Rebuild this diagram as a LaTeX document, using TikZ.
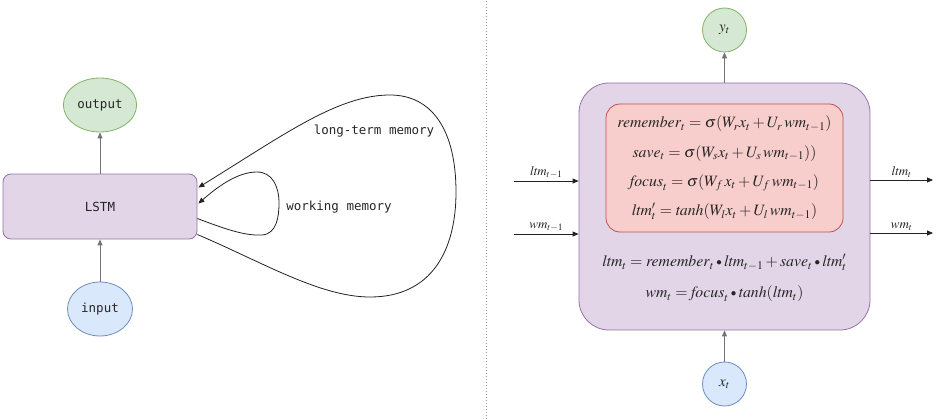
\documentclass[tikz,border=0pt]{standalone}
\usepackage{mathptmx}
\usepackage{fontspec}
\newfontfamily\codefont{DejaVu Sans Mono}
\usetikzlibrary{arrows.meta,calc,shapes.geometric}

% small elementwise product dot
\newcommand{\hprod}{\mathbin{\vcenter{\hbox{\scalebox{0.7}{$\bullet$}}}}}

\definecolor{greenfill}{HTML}{D5E8D4}
\definecolor{greenline}{HTML}{82B366}
\definecolor{bluefill}{HTML}{DAE8FC}
\definecolor{blueline}{HTML}{6C8EBF}
\definecolor{purplefill}{HTML}{E1D5E7}
\definecolor{purpleline}{HTML}{9673A6}
\definecolor{redfill}{HTML}{F8CECC}
\definecolor{redline}{HTML}{B85450}
\definecolor{inkgray}{HTML}{222222}

\tikzset{
  tip/.style={-{Triangle[length=6pt,width=5pt]}},
  stemlink/.style={tip, draw=black!55, line width=0.9pt},
  flowlink/.style={tip, draw=inkgray, line width=0.8pt},
  looplink/.style={tip, draw=inkgray, line width=0.8pt},
  codetext/.style={font=\codefont\fontsize{12.5}{14}\selectfont, text=black!85},
  cellbox/.style={draw=purpleline, fill=purplefill, line width=0.8pt},
  greenball/.style={draw=greenline, fill=greenfill, line width=0.8pt},
  blueball/.style={draw=blueline, fill=bluefill, line width=0.8pt},
  mathtext/.style={font=\fontsize{15.8}{29.3}\selectfont, text=black!85, align=center},
  labeltext/.style={font=\fontsize{13}{15}\selectfont, text=black!85},
  balltext/.style={font=\fontsize{15}{17}\selectfont, text=black!85},
}

\begin{document}
\begin{tikzpicture}[x=1pt,y=-1pt]
\useasboundingbox (0,0) rectangle (940,420);

% ---------- compact view: LSTM with its two recurrent memories ----------
\node[cellbox, rounded corners=8pt, minimum width=194pt, minimum height=65pt,
      codetext] (lstm) at (100,206.5) {LSTM};
\node[greenball, ellipse, minimum width=65pt, minimum height=54pt,
      codetext] (out) at (100,105) {output};
\node[blueball, ellipse, minimum width=65pt, minimum height=54pt,
      codetext] (in) at (100,309) {input};

\draw[stemlink] (lstm.north) -- (out.south);
\draw[stemlink] (in.north) -- (lstm.south);

% long-term memory loop
\coordinate (ltA) at ($(lstm.east)+(0,28)$);
\coordinate (ltB) at ($(lstm.east)+(1,-19)$);
\draw[looplink] (ltA) .. controls (262,262) and (320,297) .. (370,297)
  .. controls (432,297) and (456,250) .. (456,192)
  .. controls (456,130) and (432,95) .. (390,95)
  .. controls (338,95) and (285,134) .. (ltB);

% working memory loop
\coordinate (wmA) at ($(lstm.east)+(0,12)$);
\coordinate (wmB) at ($(lstm.east)+(1,-3)$);
\draw[looplink] (wmA) .. controls (225,229) and (245,236) .. (262,235)
  .. controls (277,234) and (279,216) .. (279,203)
  .. controls (279,186) and (272,172) .. (257,172)
  .. controls (236,172) and (215,189) .. (wmB);

\node[codetext] (ltlabel) at (374,131) {long-term memory};
\node[codetext] (wmlabel) at (339,207) {working memory};

% ---------- separator ----------
\coordinate (sepTop) at (486,1);
\coordinate (sepBot) at (486,419);
\draw[black!40, line width=0.8pt, dash pattern=on 1pt off 2pt] (sepTop) -- (sepBot);

% ---------- unrolled cell with its gate equations ----------
\node[cellbox, rounded corners=30pt, minimum width=291pt, minimum height=247pt]
  (cell) at (724.5,206.5) {};
\node[draw=redline, fill=redfill, line width=0.8pt, rounded corners=14pt,
      minimum width=237pt, minimum height=128pt, mathtext, inner sep=0pt]
  (gates) at (724.5,168) {%
  $\mathit{remember}_t = \sigma(W_r x_t + U_r\,\mathit{wm}_{t-1})$\\
  $\mathit{save}_t = \sigma(W_s x_t + U_s\,\mathit{wm}_{t-1}))$\\
  $\mathit{focus}_t = \sigma(W_f\, x_t + U_f\,\mathit{wm}_{t-1})$\\
  $\mathit{ltm}'_t = \mathit{tanh}(W_l x_t + U_l\,\mathit{wm}_{t-1})$};
\node[mathtext, font=\fontsize{15.8}{31}\selectfont, inner sep=0pt] (update) at (724.5,278) {%
  $\mathit{ltm}_t = \mathit{remember}_t \hprod \mathit{ltm}_{t-1} + \mathit{save}_t \hprod \mathit{ltm}'_t$\\
  $\mathit{wm}_t = \mathit{focus}_t \hprod \mathit{tanh}(\mathit{ltm}_t)$};

\node[greenball, circle, minimum size=44pt, inner sep=0pt, balltext] (yt) at (724.5,30) {$y_t$};
\node[blueball, circle, minimum size=44pt, inner sep=0pt, balltext] (xt) at (724.5,384) {$x_t$};
\draw[stemlink] (cell.north) -- (yt.south);
\draw[stemlink] (xt.north) -- (cell.south);

% incoming states
\coordinate (ltmIn) at (514,181);
\coordinate (wmIn) at (514,234);
\draw[flowlink] (ltmIn) -- node[above, labeltext, yshift=-1pt] (ltmInLabel) {$\mathit{ltm}_{t-1}$} (ltmIn -| cell.west);
\draw[flowlink] (wmIn) -- node[above, labeltext, yshift=-1pt] (wmInLabel) {$\mathit{wm}_{t-1}$} (wmIn -| cell.west);

% outgoing states
\coordinate (ltmOut) at (933,180);
\coordinate (wmOut) at (933,233);
\draw[flowlink] (ltmOut -| cell.east) -- node[above, labeltext, yshift=-1pt] (ltmOutLabel) {$\mathit{ltm}_t$} (ltmOut);
\draw[flowlink] (wmOut -| cell.east) -- node[above, labeltext, yshift=-1pt] (wmOutLabel) {$\mathit{wm}_t$} (wmOut);

\end{tikzpicture}
\end{document}
